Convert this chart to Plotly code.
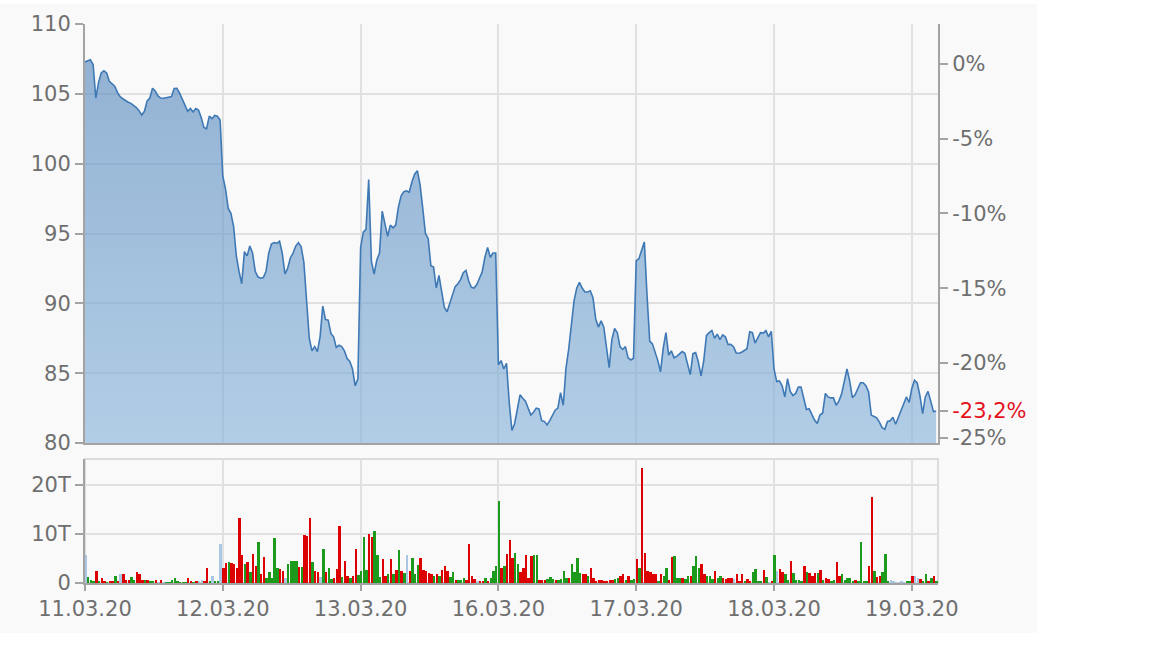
import plotly.graph_objects as go

# ---------------- data ----------------
day_labels = ["11.03.20", "12.03.20", "13.03.20", "16.03.20", "17.03.20", "18.03.20", "19.03.20"]
SLOTS_PER_DAY = 51          # 10-minute intervals, 09:00-17:30
prev_close = 107.15         # reference for the % axis

price_11 = [107.28, 107.35, 107.44, 107.1, 104.7, 105.8, 106.5, 106.65, 106.5, 105.9,
            105.74, 105.55, 105.1, 104.8, 104.65, 104.5, 104.4, 104.32, 104.2, 104.02,
            103.8, 103.48, 103.75, 104.5, 104.7, 105.4, 105.2, 104.85, 104.7, 104.68,
            104.72, 104.74, 104.8, 105.38, 105.4, 105.05, 104.62, 104.31, 103.75, 103.95,
            103.7, 103.95, 103.84, 103.3, 102.6, 102.5, 103.4, 103.22, 103.45, 103.4, 103.13]
price_12 = [99.1, 98.2, 96.8, 96.45, 95.5, 93.4, 92.3, 91.4, 93.7, 93.4,
            94.1, 93.6, 92.3, 91.9, 91.8, 91.85, 92.3, 93.6, 94.25, 94.35,
            94.3, 94.45, 93.6, 92.1, 92.5, 93.25, 93.6, 94.1, 94.35, 94.05,
            92.94, 90.1, 87.5, 86.6, 86.9, 86.55, 87.6, 89.8, 88.85, 88.8,
            87.85, 87.6, 86.85, 87.0, 86.9, 86.6, 86.05, 85.85, 85.3, 84.1, 84.6]
price_13 = [94.0, 95.1, 95.3, 98.86, 93.0, 92.1, 93.1, 93.6, 96.6, 95.8,
            94.8, 95.6, 95.4, 95.6, 96.9, 97.7, 98.0, 98.05, 97.95, 98.7,
            99.25, 99.5, 98.5, 96.8, 95.0, 94.65, 92.7, 92.6, 91.1, 92.0,
            90.81, 89.7, 89.4, 90.0, 90.45, 91.2, 91.4, 91.7, 92.2, 92.36,
            91.6, 91.15, 91.1, 91.35, 91.8, 92.25, 93.3, 94.0, 93.3, 93.6, 93.6]
price_16 = [85.6, 85.9, 85.3, 85.7, 82.9, 80.9, 81.4, 82.4, 83.45, 83.2,
            83.0, 82.5, 82.0, 82.2, 82.5, 82.45, 81.6, 81.55, 81.3, 81.6,
            82.0, 82.35, 82.5, 83.6, 82.7, 85.35, 86.7, 88.6, 90.2, 91.1,
            91.5, 91.1, 90.81, 90.81, 90.9, 90.4, 88.9, 88.3, 88.75, 88.3,
            87.0, 85.4, 87.4, 88.2, 87.9, 86.9, 86.7, 86.9, 86.1, 85.95, 86.07]
price_17 = [93.06, 93.2, 93.9, 94.4, 90.6, 87.3, 87.1, 86.5, 85.9, 85.1,
            86.8, 87.9, 86.3, 86.6, 86.1, 86.2, 86.4, 86.55, 86.42, 85.6,
            84.9, 86.4, 86.47, 85.8, 84.8, 85.9, 87.7, 87.9, 88.05, 87.5,
            87.8, 87.4, 87.74, 87.6, 87.05, 87.07, 86.9, 86.45, 86.43, 86.5,
            86.62, 86.75, 87.97, 87.9, 87.15, 87.5, 87.9, 87.87, 88.05, 87.6, 88.0]
price_18 = [85.3, 84.4, 84.45, 84.1, 83.3, 84.6, 83.7, 83.4, 83.55, 84.0,
            84.0, 83.1, 82.4, 82.45, 82.0, 81.65, 81.4, 82.0, 82.15, 83.55,
            83.3, 83.23, 83.23, 82.7, 83.0, 83.5, 84.4, 85.3, 84.45, 83.25,
            83.45, 83.9, 84.32, 84.32, 84.1, 83.65, 82.0, 81.9, 81.8, 81.5,
            81.1, 80.98, 81.55, 81.6, 81.85, 81.35, 81.85, 82.35, 82.9, 83.3, 82.9]
price_19 = [83.9, 84.5, 84.3, 83.4, 82.1, 83.3, 83.7, 83.0, 82.25, 82.3]

# volume in thousands (T); direction: g = up, r = down, b = unchanged
vol_11 = [5.7, 1.3, 0.6, 0.5, 2.4, 0.5, 1.1, 0.4, 0.2, 0.4, 0.4, 1.4, 0.4, 1.8, 1.8, 0.7, 0.7,
          1.3, 0.7, 2.2, 1.9, 0.7, 0.7, 0.7, 0.4, 0.4, 0.6, 0.2, 0.6, 0.2, 0.1, 0.1, 0.7, 1.1,
          0.5, 0.1, 0.1, 0.1, 1.1, 0.4, 0.3, 0.4, 0.4, 0.6, 0.4, 3.1, 0.4, 1.4, 0.4, 0.4, 8.0]
dir_11 = "bgggrgrrgr" "rgrbrrrggr" "rrgrggrbrb" "ggggggggrr" "grbbrrgbgg" "b"
vol_12 = [3.1, 4.0, 4.2, 4.0, 3.8, 3.1, 13.2, 5.7, 3.8, 4.2, 2.2, 5.9, 3.5, 8.4, 1.8, 5.3, 1.1,
          2.2, 1.1, 9.1, 3.1, 2.8, 2.4, 1.1, 3.8, 4.5, 4.5, 4.5, 3.3, 3.3, 9.7, 9.5, 13.2, 4.2,
          2.4, 2.2, 1.3, 7.0, 2.2, 3.1, 0.8, 1.1, 2.8, 11.6, 1.3, 4.5, 1.5, 1.1, 1.5, 7.0, 1.6]
dir_12 = "rrgrrrrrgr" "grrgrrgggg" "grrbggggrg" "rrrgrrbgrg" "grrrgrrgrr" "g"
vol_13 = [2.4, 9.4, 2.6, 9.9, 9.4, 10.7, 5.8, 1.3, 4.9, 1.5, 1.9, 4.9, 1.8, 2.6, 6.7, 2.4, 2.0,
          5.7, 2.4, 5.1, 1.8, 3.6, 5.1, 2.6, 2.4, 2.0, 1.8, 1.5, 1.8, 1.5, 2.6, 3.4, 2.4, 1.3,
          2.2, 0.6, 0.6, 0.6, 1.1, 0.6, 8.0, 1.5, 0.8, 0.4, 0.4, 0.4, 1.1, 0.4, 1.1, 2.4, 3.5]
dir_13 = "gggrrgggrr" "grgrgrgbrg" "ggrrrrrgrg" "rrrggrgggr" "rrrbrrgrgg" "g"
vol_16 = [16.8, 3.1, 3.5, 5.9, 8.7, 5.1, 6.2, 3.8, 2.2, 3.1, 5.8, 1.1, 5.5, 5.7, 5.8, 0.6, 0.6,
          0.6, 0.8, 1.3, 0.9, 0.6, 0.6, 0.8, 2.4, 1.1, 1.1, 3.8, 2.2, 5.1, 2.0, 1.8, 1.8, 1.5,
          3.1, 1.1, 0.4, 0.6, 0.6, 0.4, 0.4, 0.6, 0.6, 0.9, 1.1, 1.5, 1.8, 0.6, 1.5, 0.6, 0.8]
dir_16 = "grgrrrggrr" "rrrggrrrgg" "grggggrggg" "grrgrrrrrr" "rrrggrrgrg" "g"
vol_17 = [4.9, 3.1, 23.4, 6.2, 2.4, 2.2, 1.8, 1.8, 0.4, 1.8, 1.5, 3.1, 0.6, 5.3, 5.5, 1.1, 1.1,
          1.1, 0.8, 1.5, 1.5, 3.5, 5.5, 3.1, 3.8, 1.8, 1.5, 1.5, 0.8, 2.4, 1.1, 1.5, 1.1, 0.8,
          1.1, 1.1, 0.9, 1.8, 0.4, 1.8, 0.4, 0.8, 0.4, 2.2, 2.8, 0.4, 0.4, 2.6, 1.3, 0.3, 0.4]
dir_17 = "rgrrrrrrgr" "ggrrgggrgg" "rgggrrgggr" "ggrrrrbrrr" "grrggggrgb" "r"
vol_18 = [5.7, 2.4, 2.8, 2.2, 1.8, 0.6, 4.5, 2.0, 0.6, 0.6, 0.4, 3.5, 2.2, 2.0, 1.5, 2.0, 2.0,
          2.6, 0.6, 1.1, 0.8, 0.4, 0.6, 4.2, 1.5, 1.8, 0.6, 1.1, 1.1, 0.4, 0.6, 0.4, 8.4, 0.4,
          0.4, 3.5, 17.5, 2.4, 1.3, 1.5, 2.2, 5.9, 0.4, 0.6, 0.4, 0.3, 0.3, 0.4, 0.3, 0.4, 0.4]
dir_18 = "gbrrggrggg" "grgrrrgrgr" "rggrrggggg" "rggggrrgrr" "gggbbbbbbg" "g"
vol_19 = [1.5, 1.5, 1.0, 0.8, 0.4, 1.8, 0.4, 1.1, 1.5, 0.4]
dir_19 = "rbbrggrgrg"

price_days = [price_11, price_12, price_13, price_16, price_17, price_18, price_19]
vol_days = [vol_11, vol_12, vol_13, vol_16, vol_17, vol_18, vol_19]
dir_days = [dir_11, dir_12, dir_13, dir_16, dir_17, dir_18, dir_19]

dir_colors = {"g": "#1c9a1c", "r": "#dc0000", "b": "#a9c6e3"}

# ---------------- build series ----------------
t_price, y_price = [], []
for d, day in enumerate(price_days):
    for i, v in enumerate(day):
        t_price.append(d + i / SLOTS_PER_DAY)
        y_price.append(v)

t_vol, y_vol, c_vol = [], [], []
for d, (vols, dirs) in enumerate(zip(vol_days, dir_days)):
    for i, (v, s) in enumerate(zip(vols, dirs)):
        t_vol.append(d + (i + 0.3) / SLOTS_PER_DAY)
        y_vol.append(v)
        c_vol.append(dir_colors[s])

last_price = y_price[-1]
pct_last = (last_price / prev_close - 1) * 100
price_range = [80, 110]
pct_range = [(p / prev_close - 1) * 100 for p in price_range]

FONT = "DejaVu Sans"
TXT = "#6f6f6f"
AX = "#a3a3a3"
GRID = "#e1e1e1"
BG = "#f9f9f9"
x_range = [0, 6.19]

fig = go.Figure()
fig.add_trace(go.Scatter(
    x=t_price, y=y_price, mode="lines",
    line=dict(color="#3f79b5", width=1.6),
    fill="tozeroy",
    fillgradient=dict(type="vertical", start=80, stop=108,
                      colorscale=[[0, "rgba(134,178,218,0.62)"], [1, "rgba(86,136,189,0.63)"]]),
    xaxis="x", yaxis="y", hoverinfo="skip", showlegend=False))
fig.add_trace(go.Scatter(
    x=[t_price[-1]], y=[pct_last], mode="markers", marker=dict(opacity=0),
    xaxis="x", yaxis="y2", hoverinfo="skip", showlegend=False))
fig.add_trace(go.Bar(
    x=t_vol, y=y_vol, marker=dict(color=c_vol, line=dict(width=0)),
    width=0.014, xaxis="x2", yaxis="y3", hoverinfo="skip", showlegend=False))

pct_ticks = [0, -5, -10, -15, -20, -25, pct_last]
pct_text = [f"{v:d}%" for v in [0, -5, -10, -15, -20, -25]] + [
    "<span style='color:#e4121c'>" + f"{pct_last:.1f}".replace(".", ",") + "%</span>"]

tickfont = dict(family=FONT, size=21, color=TXT)

fig.update_layout(
    width=1152, height=648,
    margin=dict(l=85, r=214, t=20, b=65),
    paper_bgcolor="white", plot_bgcolor=BG,
    bargap=0,
    shapes=[
        dict(type="rect", xref="paper", yref="paper", x0=-0.0997, x1=1.1161,
             y0=-0.0888, y1=1.0355, fillcolor=BG, line=dict(width=0), layer="below"),
        dict(type="rect", xref="x2 domain", yref="y3 domain", x0=0, x1=1, y0=0, y1=1,
             line=dict(color="#dcdcdc", width=2), layer="below"),
    ],
    xaxis=dict(domain=[0, 1], anchor="y", range=x_range,
               tickvals=list(range(len(day_labels))), showticklabels=False, ticks="",
               showgrid=True, gridcolor=GRID, gridwidth=1.5, zeroline=False,
               showline=True, linecolor=AX, linewidth=2),
    yaxis=dict(domain=[0.2504, 1], range=price_range, tickvals=[80, 85, 90, 95, 100, 105, 110],
               ticks="outside", ticklen=8, tickwidth=1.5, tickcolor=AX,
               showline=True, linecolor=AX, linewidth=2,
               showgrid=True, gridcolor=GRID, gridwidth=1.5, zeroline=False,
               tickfont=tickfont),
    yaxis2=dict(overlaying="y", side="right", anchor="x", range=pct_range,
                tickvals=pct_ticks, ticktext=pct_text,
                ticks="outside", ticklen=8, tickwidth=1.5, tickcolor=AX,
                showline=True, linecolor=AX, linewidth=2, showgrid=False, zeroline=False,
                tickfont=tickfont),
    xaxis2=dict(domain=[0, 1], anchor="y3", range=x_range,
                tickvals=list(range(len(day_labels))), ticktext=day_labels,
                ticks="outside", ticklen=6, tickwidth=1.5, tickcolor=AX,
                showgrid=True, gridcolor=GRID, gridwidth=1.5, zeroline=False,
                showline=True, linecolor=AX, linewidth=2,
                tickfont=tickfont),
    yaxis3=dict(domain=[0, 0.222], anchor="x2", range=[0, 25.25],
                tickvals=[0, 10, 20], ticktext=["0", "10T", "20T"],
                ticks="outside", ticklen=8, tickwidth=1.5, tickcolor=AX,
                showline=True, linecolor=AX, linewidth=2,
                showgrid=True, gridcolor=GRID, gridwidth=1.5, zeroline=False,
                tickfont=tickfont),
)

fig.write_html("out.html", config={"displayModeBar": False},
               post_script="document.body.style.margin='0px';")
